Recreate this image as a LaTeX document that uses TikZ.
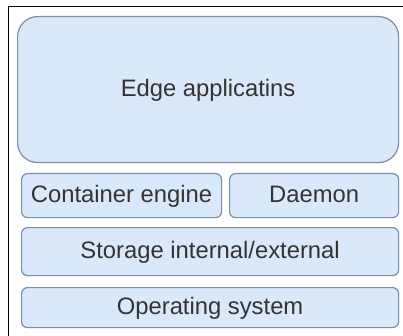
\documentclass[tikz,border=0pt]{standalone}
\usepackage{fontspec}
\setmainfont{Liberation Sans}
\definecolor{boxfill}{HTML}{DAE8FC}
\definecolor{boxline}{HTML}{7D8DA3}
\definecolor{txt}{HTML}{333333}
\tikzset{
  layer/.style={draw=boxline, fill=boxfill, line width=1.2pt, rounded corners=6pt, text=txt, font=\fontsize{23.8}{26}\selectfont, inner sep=0pt, text height=17pt, text depth=4pt, anchor=north west},
}
\begin{document}
\begin{tikzpicture}[x=1pt,y=-1pt]
\useasboundingbox (0,0) rectangle (403,336);
\fill[white] (0,0) rectangle (403,336);
\draw[black, line width=1.5pt] (8.5,336) -- (8.5,6.5) -- (403,6.5);
\node[layer, rounded corners=20pt, minimum width=381pt, minimum height=146pt] (apps) at (17,16) {Edge applicatins};
\node[layer, minimum width=200pt, minimum height=44pt] (ce) at (21,173) {Container engine};
\node[layer, minimum width=169pt, minimum height=44pt] (dm) at (229,173) {Daemon};
\node[layer, minimum width=377pt, minimum height=48pt] (st) at (21,227) {Storage internal/external};
\node[layer, minimum width=377pt, minimum height=40pt] (os) at (21,287) {Operating system};
\end{tikzpicture}
\end{document}
